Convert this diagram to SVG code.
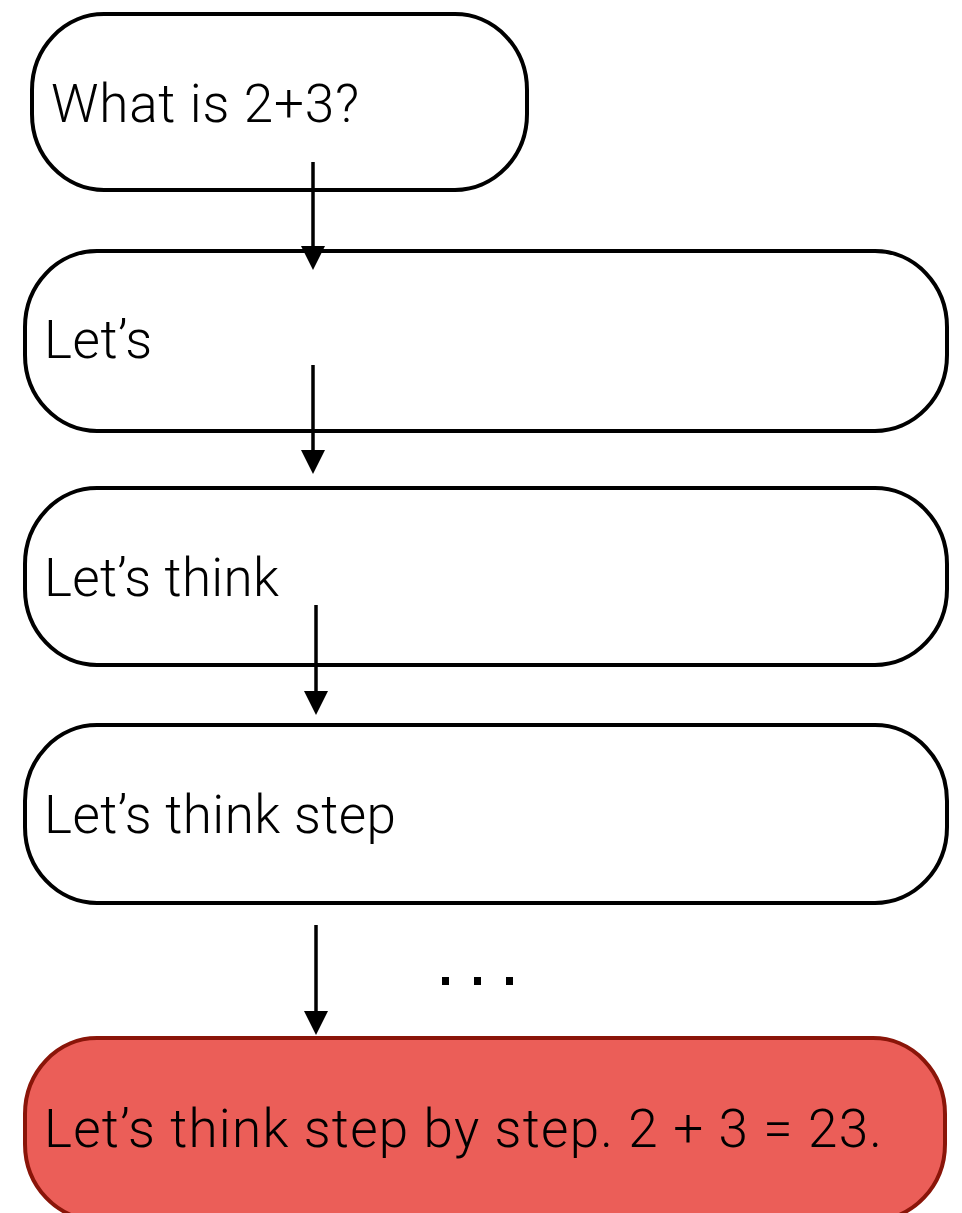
<svg xmlns="http://www.w3.org/2000/svg" width="962" height="1213" viewBox="0 0 962 1213">
  <defs>
    <style>
      .box { fill: #ffffff; stroke: #000000; stroke-width: 4; }
      .box.final { fill: #eb5e58; stroke: #8a1509; }
      .label { font-family: "Roboto", "Liberation Sans", Arial, sans-serif; font-weight: 300; font-size: 53px; fill: #000000; }
      .edge { stroke: #000000; stroke-width: 3.5; fill: none; marker-end: url(#arrow); }
    </style>
    <marker id="arrow" viewBox="0 0 24 24" refX="12" refY="12" markerWidth="24" markerHeight="24" markerUnits="userSpaceOnUse" orient="auto">
      <path d="M0,0 L24,12 L0,24 Z" fill="#000000"/>
    </marker>
  </defs>

  <rect width="962" height="1213" fill="#ffffff"/>

  <!-- prompt -->
  <g id="node-question">
    <rect class="box" x="32" y="14" width="495" height="176" rx="72" ry="76"/>
    <text class="label" x="51" y="122" textLength="308" lengthAdjust="spacing">What is 2+3?</text>
  </g>

  <!-- partial continuations -->
  <g id="node-lets">
    <rect class="box" x="25" y="251" width="922" height="180" rx="72" ry="76"/>
    <text class="label" x="44" y="358" textLength="108" lengthAdjust="spacing">Let’s</text>
  </g>

  <g id="node-lets-think">
    <rect class="box" x="25" y="488" width="922" height="177" rx="72" ry="76"/>
    <text class="label" x="44" y="596" textLength="235" lengthAdjust="spacing">Let’s think</text>
  </g>

  <g id="node-lets-think-step">
    <rect class="box" x="25" y="725" width="922" height="178" rx="72" ry="76"/>
    <text class="label" x="44" y="833" textLength="352" lengthAdjust="spacing">Let’s think step</text>
  </g>

  <!-- final (wrong) answer -->
  <g id="node-answer">
    <rect class="box final" x="25" y="1038" width="920" height="182" rx="72" ry="76"/>
    <text class="label" x="44" y="1147" textLength="838" lengthAdjust="spacing">Let’s think step by step. 2 + 3 = 23.</text>
  </g>

  <!-- ellipsis between steps -->
  <g id="ellipsis">
    <rect x="442" y="977" width="7" height="8" fill="#000000"/>
    <rect x="474" y="977" width="7" height="8" fill="#000000"/>
    <rect x="506" y="977" width="7" height="8" fill="#000000"/>
  </g>

  <g id="connectors">
    <line class="edge" x1="313" y1="162" x2="313" y2="258"/>
    <line class="edge" x1="313" y1="365" x2="313" y2="462"/>
    <line class="edge" x1="316" y1="605" x2="316" y2="703"/>
    <line class="edge" x1="316" y1="925" x2="316" y2="1023"/>
  </g>
</svg>
